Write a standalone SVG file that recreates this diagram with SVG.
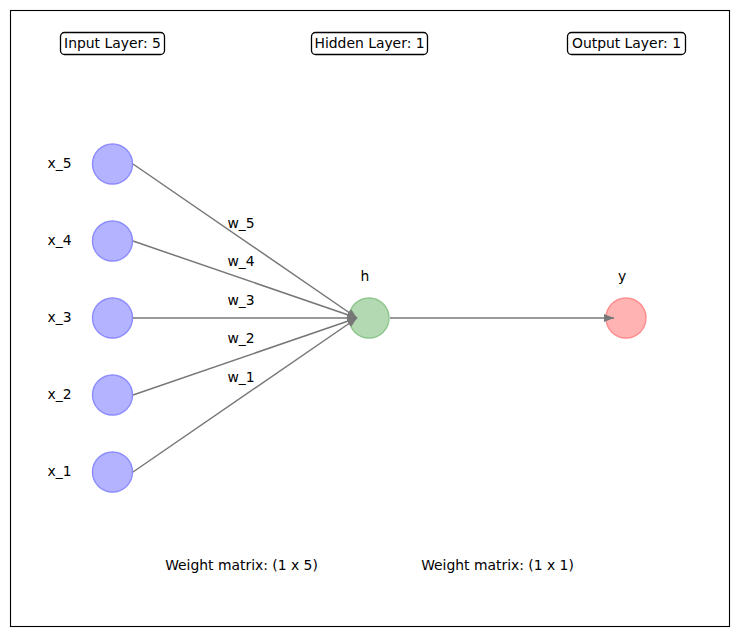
<svg xmlns="http://www.w3.org/2000/svg" width="738" height="636" viewBox="0 0 738 636">
  <style>
    text { font-family: "DejaVu Sans", "Liberation Sans", sans-serif; font-size: 13.9px; fill: #000; }
    .mid { text-anchor: middle; }
    .edge { stroke: #777; stroke-width: 1.5; fill: none; }
    .in { fill: #b3b3ff; stroke: #8c8cff; stroke-width: 1.4; }
    .hid { fill: #b3d9b3; stroke: #8cc68c; stroke-width: 1.4; }
    .out { fill: #ffb3b3; stroke: #ff8c8c; stroke-width: 1.4; }
    .tag { fill: #fff; stroke: #000; stroke-width: 1.3; }
  </style>
  <defs>
    <marker id="head" viewBox="0 0 10 8" refX="10" refY="4" markerWidth="10" markerHeight="8" markerUnits="userSpaceOnUse" orient="auto">
      <path d="M0,0 L10,4 L0,8 Z" fill="#777"/>
    </marker>
  </defs>
  <rect width="738" height="636" fill="#fff"/>
  <rect x="10.5" y="10.5" width="719" height="616" fill="none" stroke="#000" stroke-width="1.1"/>

  <!-- layer titles -->
  <g id="title-input"><rect class="tag" x="60.5" y="32.5" width="104" height="22" rx="4"/><text class="mid" x="112.5" y="48">Input Layer: 5</text></g>
  <g id="title-hidden"><rect class="tag" x="311.5" y="32.5" width="116" height="22" rx="4"/><text class="mid" x="369.5" y="48">Hidden Layer: 1</text></g>
  <g id="title-output"><rect class="tag" x="567.5" y="32.5" width="118" height="22" rx="4"/><text class="mid" x="626.5" y="48">Output Layer: 1</text></g>

  <!-- input neurons -->
  <g id="x5"><circle class="in" cx="112.5" cy="164" r="20"/><text class="mid" x="59.5" y="168">x_5</text></g>
  <g id="x4"><circle class="in" cx="112.5" cy="241" r="20"/><text class="mid" x="59.5" y="245">x_4</text></g>
  <g id="x3"><circle class="in" cx="112.5" cy="318" r="20"/><text class="mid" x="59.5" y="322">x_3</text></g>
  <g id="x2"><circle class="in" cx="112.5" cy="395" r="20"/><text class="mid" x="59.5" y="399">x_2</text></g>
  <g id="x1"><circle class="in" cx="112.5" cy="472" r="20"/><text class="mid" x="59.5" y="476">x_1</text></g>

  <!-- hidden neuron -->
  <g id="h"><circle class="hid" cx="369" cy="318" r="20"/><text class="mid" x="365" y="281">h</text></g>

  <!-- output neuron -->
  <g id="y"><circle class="out" cx="626" cy="318" r="20"/><text class="mid" x="622" y="281">y</text></g>

  <!-- connectors, drawn over the neurons so the heads stay visible -->
  <g id="edges">
    <line class="edge" x1="133" y1="164" x2="357" y2="318" marker-end="url(#head)"/>
    <line class="edge" x1="133" y1="241" x2="357" y2="318" marker-end="url(#head)"/>
    <line class="edge" x1="133" y1="318" x2="357" y2="318" marker-end="url(#head)"/>
    <line class="edge" x1="133" y1="395" x2="357" y2="318" marker-end="url(#head)"/>
    <line class="edge" x1="133" y1="472" x2="357" y2="318" marker-end="url(#head)"/>
    <line class="edge" x1="390" y1="318" x2="614" y2="318" marker-end="url(#head)"/>
    <text class="mid" x="241" y="228">w_5</text>
    <text class="mid" x="241" y="266">w_4</text>
    <text class="mid" x="241" y="305">w_3</text>
    <text class="mid" x="241" y="343">w_2</text>
    <text class="mid" x="241" y="382">w_1</text>
  </g>

  <!-- weight matrix shapes -->
  <text class="mid" x="241.5" y="570">Weight matrix: (1 x 5)</text>
  <text class="mid" x="497.5" y="570">Weight matrix: (1 x 1)</text>
</svg>
